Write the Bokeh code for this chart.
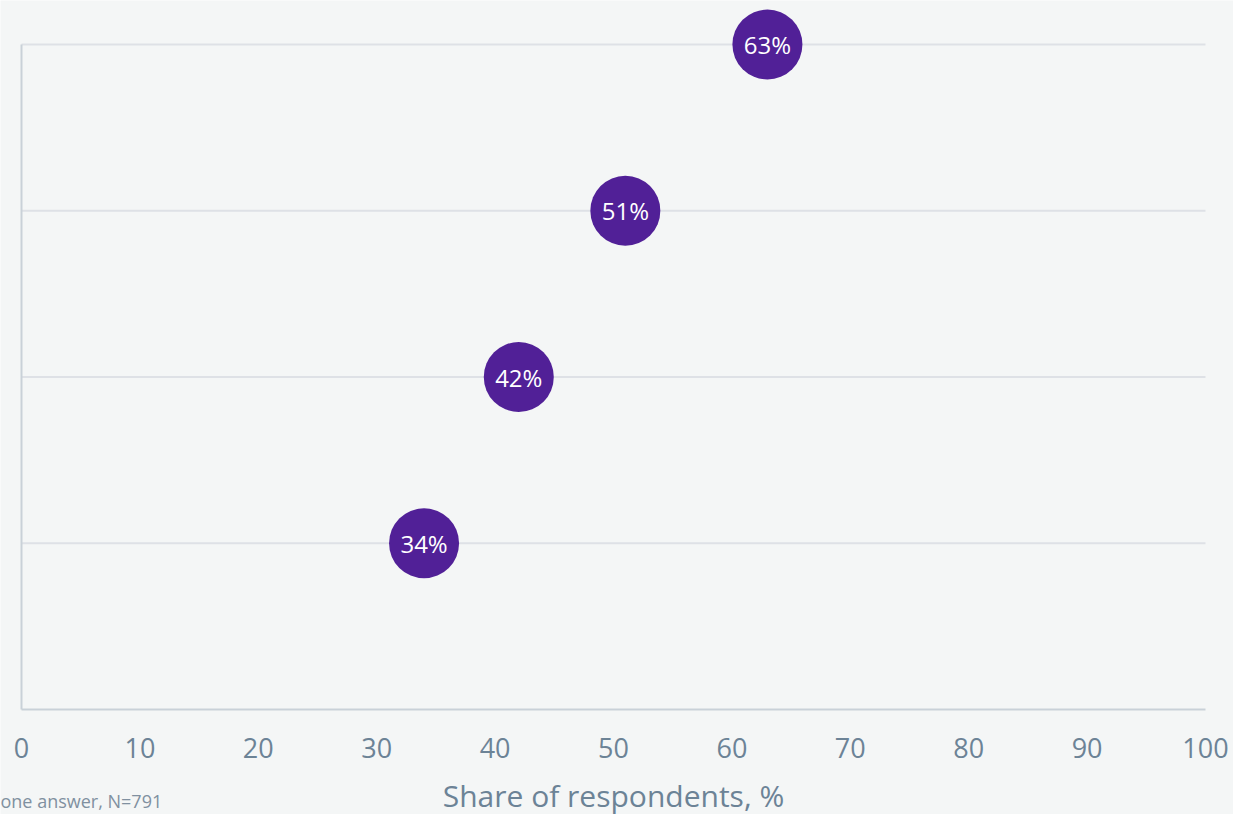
from bokeh.plotting import figure
from bokeh.models import ColumnDataSource, FixedTicker, Range1d, Label
from bokeh.embed import file_html
from bokeh.resources import INLINE
from bokeh.core.properties import value

# Data
ranks = [1, 2, 3, 4]
shares = [34, 42, 51, 63]
labels = [f"{v}%" for v in shares]
x_ticks = [0, 10, 20, 30, 40, 50, 60, 70, 80, 90, 100]
footnote = "one answer, N=791"

BG = "#F4F6F6"
PURPLE = "#512097"
AXIS = "#C9D1D8"
GRID = "#DEE1E6"
TXT = "#6C8396"
FONT = "Open Sans"

W, H = 1233, 814
L, R, B = 21, 1205, 709           # plot-area edges in page pixels
pxx = (R - L) / 100.0
pxy = (B - 44) / 4.0

src = ColumnDataSource(dict(x=shares, y=ranks, t=labels))
grid_src = ColumnDataSource(dict(x0=[x_ticks[0]] * len(ranks), x1=[x_ticks[-1]] * len(ranks),
                                 y=ranks))

p = figure(width=W, height=H, output_backend="svg", toolbar_location=None,
           x_range=Range1d(-L / pxx, 100 + (W - R) / pxx),
           y_range=Range1d(-(H - B) / pxy, B / pxy),
           min_border=0)
p.background_fill_color = BG
p.border_fill_color = BG
p.outline_line_color = None
p.grid.visible = False

# horizontal category gridlines spanning the value axis only
p.segment(x0="x0", x1="x1", y0="y", y1="y", source=grid_src, line_color=GRID, line_width=2)

xa = p.xaxis[0]
xa.fixed_location = 0
xa.bounds = (0, 100)
xa.ticker = FixedTicker(ticks=x_ticks)
xa.axis_line_color = AXIS
xa.axis_line_width = 2
xa.major_tick_line_color = None
xa.minor_tick_line_color = None
xa.major_tick_out = 0
xa.major_label_standoff = 28
xa.major_label_text_font = FONT
xa.major_label_text_font_size = "27px"
xa.major_label_text_color = TXT
xa.axis_label = "Share of respondents, %"
xa.axis_label_text_font = FONT
xa.axis_label_text_font_size = "30px"
xa.axis_label_text_font_style = "normal"
xa.axis_label_text_color = TXT
xa.axis_label_standoff = 14

ya = p.yaxis[0]
ya.fixed_location = 0
ya.ticker = FixedTicker(ticks=[])
ya.bounds = (0, 4)
ya.axis_line_color = AXIS
ya.axis_line_width = 2
ya.major_tick_line_color = None
ya.minor_tick_line_color = None
ya.major_tick_out = 0
ya.major_tick_in = 0
ya.major_label_standoff = 0

p.scatter("x", "y", source=src, size=70, fill_color=PURPLE, line_color=None)
p.text("x", "y", text="t", source=src, text_align="center", text_baseline="middle",
       text_color="white", text_font=value(FONT), text_font_size="24px")

p.add_layout(Label(x=0, y=2, x_units="screen", y_units="screen", text=footnote,
                   text_font=FONT, text_font_size="18px", text_color="#8090A0"))

html = file_html(p, INLINE)
html = html.replace("<body>", '<body style="background:%s">' % BG, 1)
open("out.html", "w").write(html)
